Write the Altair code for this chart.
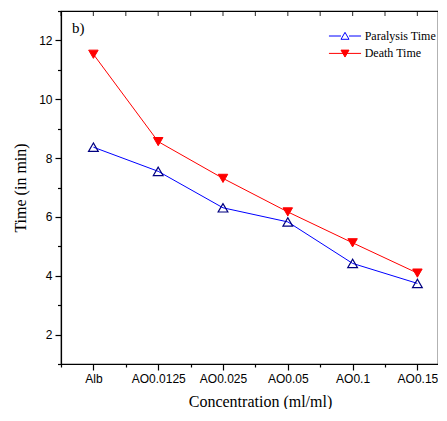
import json
import altair as alt
import pandas as pd

categories = ["Alb", "AO0.0125", "AO0.025", "AO0.05", "AO0.1", "AO0.15"]
paralysis = [8.37, 7.55, 6.31, 5.83, 4.42, 3.74]
death = [11.53, 8.56, 7.31, 6.17, 5.12, 4.09]
series_names = ["Paralysis Time", "Death Time"]
line_colors = ["#0000FF", "#FF0000"]
marker_stroke = ["#000080", "#FF0000"]
marker_fill = ["#FFFFFF", "#FF0000"]
panel_label = "b)"
x_tick_values = [i / 2 for i in range(-1, 11)]
y_tick_values = list(range(1, 14))

rows = []
for i, c in enumerate(categories):
    rows.append({"idx": i, "cat": c, "series": series_names[0], "value": paralysis[i]})
    rows.append({"idx": i, "cat": c, "series": series_names[1], "value": death[i]})
df = pd.DataFrame(rows)
ticks_df = pd.DataFrame({"v": x_tick_values})

SANS = "Liberation Sans"
SERIF = "Liberation Serif"
W = 377
H = 353
STEP = 64.8

x_scale = alt.Scale(domain=[-0.5, -0.5 + W / STEP], nice=False, zero=False)
y_scale = alt.Scale(domain=[1, 13], nice=False, zero=False)

x_axis = alt.Axis(
    values=x_tick_values,
    labelExpr="datum.value % 1 === 0 ? " + json.dumps(categories) + "[datum.value] : ''",
    tickSize={"condition": {"test": "datum.value % 1 !== 0", "value": 3}, "value": 6},
    grid=False, labelFont=SANS, labelFontSize=12, labelColor="black",
    labelPadding=3, labelFlush=False, labelOverlap=False,
    titleFont=SERIF, titleFontSize=16, titleFontWeight="normal", titleColor="black",
    titlePadding=9, titleX=199, titleAlign="center",
    domainColor="black", tickColor="black", domainWidth=1.2, tickWidth=1.2,
)
y_axis = alt.Axis(
    values=y_tick_values,
    labelExpr="datum.value % 2 === 0 ? datum.value : ''",
    tickSize={"condition": {"test": "datum.value % 2 !== 0", "value": 3.5}, "value": 6},
    grid=False, labelFont=SANS, labelFontSize=12, labelColor="black", labelPadding=3,
    titleFont=SERIF, titleFontSize=16, titleFontWeight="normal", titleColor="black",
    titlePadding=10, domainColor="black", tickColor="black", domainWidth=1.2, tickWidth=1.2,
)

X = alt.X("idx:Q", scale=x_scale, axis=x_axis, title="Concentration (ml/ml)")
Y = alt.Y("value:Q", scale=y_scale, axis=y_axis, title="Time (in min)")

base = alt.Chart(df)

line_par = base.transform_filter(alt.datum.series == series_names[0]).mark_line(
    strokeWidth=1, color=line_colors[0]
).encode(x=X, y=Y)

line_death = base.transform_filter(alt.datum.series == series_names[1]).mark_line(
    strokeWidth=1, color=line_colors[1]
).encode(x=X, y=Y)

pts_par = base.transform_filter(alt.datum.series == series_names[0]).mark_point(
    shape="triangle-up", size=95, filled=False, stroke=marker_stroke[0], strokeWidth=1.2, opacity=1
).encode(x=X, y=Y)

pts_death = base.transform_filter(alt.datum.series == series_names[1]).mark_point(
    shape="triangle-down", size=90, filled=True, fill=marker_fill[1], stroke=marker_stroke[1], strokeWidth=1, opacity=1
).encode(x=X, y=Y)

legend_paths = [
    "M-2.2,0H-0.55M0.55,0H2.2M0,-0.5L0.55,0.45L-0.55,0.45Z",
    "M-2.2,0H2.2M0,0.5L0.55,-0.45L-0.55,-0.45Z",
]
leg = alt.Legend(
    title=None, orient="none", legendX=276, legendY=17, padding=0,
    symbolSize=213, symbolStrokeWidth=1, symbolOpacity=1,
    labelFont=SERIF, labelFontSize=12, labelColor="black", labelOffset=11.7,
    rowPadding=3.4,
)
legend_layer = base.transform_filter("datum.idx < 0").mark_point(size=213).encode(
    x=X, y=Y,
    shape=alt.Shape("series:N", scale=alt.Scale(domain=series_names, range=legend_paths), legend=leg),
    stroke=alt.Stroke("series:N", scale=alt.Scale(domain=series_names, range=[line_colors[0], line_colors[1]]), legend=leg),
    fill=alt.Fill("series:N", scale=alt.Scale(domain=series_names, range=marker_fill), legend=leg),
)

top_ticks = alt.Chart(ticks_df).mark_tick(
    color="black", thickness=1.2, size=5, orient="vertical", yOffset=2.5
).encode(
    x=alt.X("v:Q", scale=x_scale, axis=x_axis, title="Concentration (ml/ml)"),
    y=alt.value(0),
)

label = alt.Chart(alt.Data(values=[{"t": panel_label}])).mark_text(
    font=SERIF, fontSize=15, align="left", baseline="alphabetic", color="black"
).encode(x=alt.value(11), y=alt.value(22), text="t:N")

chart = alt.layer(line_par, line_death, pts_par, pts_death, legend_layer, top_ticks, label).properties(
    width=W, height=H,
    padding={"left": 4, "top": 2, "right": 0, "bottom": 0},
).configure_view(stroke="black", strokeWidth=1.2)

chart.save("out.html", embed_options={"renderer": "svg", "actions": False})
